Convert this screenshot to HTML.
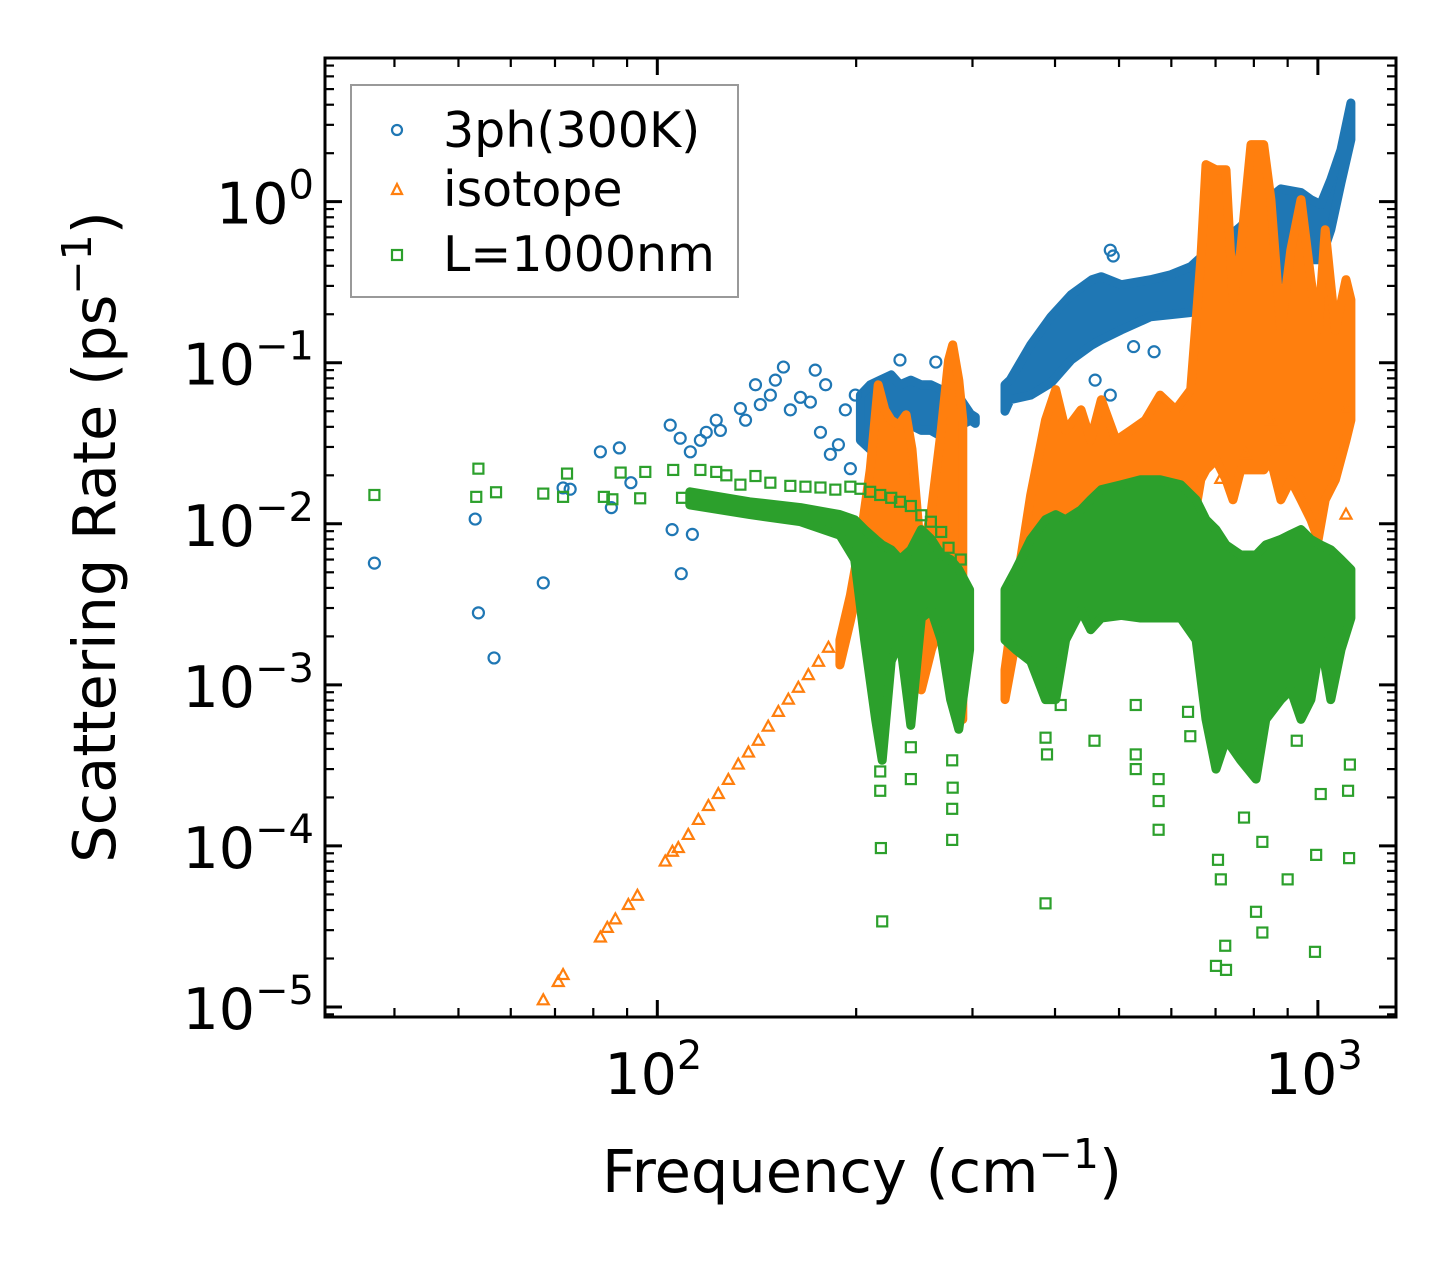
<!DOCTYPE html>
<html><head><meta charset="utf-8"><style>
body{margin:0;background:#fff}
svg{display:block}
text{font-family:"DejaVu Sans","Liberation Sans",sans-serif;fill:#000}
</style></head><body>
<svg id="chart" width="1455" height="1265" viewBox="0 0 1455 1265" xmlns="http://www.w3.org/2000/svg">
<rect width="1455" height="1265" fill="#fff"/>
<g id="marks"></g>
<g id="axes"></g>
<g id="legend">
<rect x="351" y="85" width="387" height="212" fill="#fff" stroke="#999" stroke-width="2"/>
<circle cx="397" cy="130" r="5" fill="none" stroke="#1f77b4" stroke-width="2.2"/>
<text x="443" y="147" font-size="49">3ph(300K)</text>
<polygon points="397,184 402,194 392,194" fill="none" stroke="#ff7f0e" stroke-width="2.2"/>
<text x="443" y="206" font-size="49">isotope</text>
<rect x="392" y="250" width="10" height="10" fill="none" stroke="#2ca02c" stroke-width="2.2"/>
<text x="443" y="271" font-size="49">L=1000nm</text>
</g>
</svg>
<script>
// ---- data (frequency in cm^-1, rate in ps^-1) ----
const xTickValues=[100,1000];
const xTickLabels=["2","3"];
const yTickValues=[1,0.1,0.01,0.001,0.0001,0.00001];
const yTickLabels=["0","\u22121","\u22122","\u22123","\u22124","\u22125"];

const blueBandFreq=[203,210,217.5,226,233,242,251,259.5,269,278,288,298,303,null,336,342,367.5,394.5,423,455,470,504,558,599,642,665,713,764,820,879,943,976,1010,1046,1084,1122];
const blueBandHi=[0.063,0.073,0.078,0.084,0.073,0.078,0.073,0.073,0.068,0.063,0.059,0.048,0.046,null,0.073,0.078,0.129,0.193,0.264,0.328,0.342,0.305,0.328,0.352,0.395,0.45,0.55,0.70,0.95,1.2,1.14,1.03,0.96,1.37,2.1,4.1];
const blueBandLo=[0.033,0.029,0.033,0.038,0.041,0.041,0.038,0.038,0.035,0.038,0.041,0.044,0.042,null,0.050,0.059,0.063,0.075,0.104,0.129,0.139,0.160,0.193,0.199,0.205,0.246,0.246,0.246,0.284,0.328,0.50,0.436,0.436,0.67,1.31,2.43];
const blueFreq=[37.3,53,53.6,56.6,67.2,72,73.8,82,85.2,87.6,91.2,104.6,105.3,108.3,108.7,112.2,113,116.2,118.6,122.8,124.6,133.6,136,140.8,143.2,148.3,150.9,155.2,159,164.7,170.5,173.4,176.6,179.8,182.8,188,192.6,196,199.4,233,264,485,490,526,565,792,820,460,485];
const blueRate=[0.0057,0.0107,0.0028,0.00147,0.0043,0.0167,0.0164,0.028,0.0126,0.0296,0.018,0.041,0.0092,0.034,0.0049,0.028,0.0086,0.033,0.037,0.044,0.038,0.052,0.044,0.073,0.055,0.063,0.078,0.094,0.051,0.061,0.057,0.090,0.037,0.073,0.027,0.031,0.051,0.022,0.063,0.104,0.101,0.50,0.46,0.126,0.117,0.58,0.67,0.078,0.063];

const orangeBandFreq=[189,196,203,210,216,221,226,232,238,243,251,260,269,276,280,286,290,null,336,349,367.5,387,401,415,438,453,470,495,521,548,577,609,642,665,677,701,726,744,764,792,828,849,879,910,943,976,1001,1026,1063,1103,1122];
const orangeBandHi=[0.0019,0.0036,0.0080,0.0216,0.073,0.051,0.044,0.041,0.0475,0.029,0.0060,0.0122,0.038,0.104,0.129,0.078,0.044,null,0.00124,0.0039,0.0151,0.044,0.068,0.038,0.051,0.033,0.059,0.033,0.038,0.044,0.063,0.051,0.068,0.436,1.70,1.58,1.58,0.246,0.50,2.26,2.26,1.03,0.16,0.50,1.03,0.328,0.16,0.67,0.16,0.328,0.246];
const orangeBandLo=[0.00133,0.0025,0.0048,0.0060,0.0052,0.0060,0.0060,0.0052,0.0039,0.0019,0.00093,0.00165,0.0025,0.0034,0.0025,0.00081,0.00061,null,0.00081,0.0019,0.0034,0.0052,0.0060,0.0060,0.0060,0.0060,0.0060,0.0060,0.0060,0.0060,0.0060,0.0080,0.0080,0.0188,0.0216,0.025,0.0188,0.0141,0.0216,0.0216,0.0216,0.025,0.0141,0.0188,0.0141,0.0106,0.0080,0.0141,0.0188,0.033,0.044];
const orangeFreq=[67.2,70.8,72,82,84,86.4,90.4,93.3,102.8,105.4,107.6,111.4,115.4,119.5,123.7,128.1,132.6,137.4,142.2,147.2,152.5,157.9,163.5,169.3,175.4,181.6,713,943,1103,1103,1010,879,778,849];
const orangeRate=[1.1e-5,1.43e-5,1.58e-5,2.7e-5,3.1e-5,3.5e-5,4.3e-5,4.9e-5,8.0e-5,9.2e-5,9.7e-5,1.17e-4,1.45e-4,1.77e-4,2.1e-4,2.57e-4,3.2e-4,3.8e-4,4.5e-4,5.5e-4,6.8e-4,8.1e-4,9.6e-4,1.15e-3,1.39e-3,1.7e-3,0.019,0.006,0.0114,0.051,0.063,0.033,0.027,0.044];

const greenBandFreq=[112,138,164.7,189,199,206,214,219,226,233,242,251,260,269,278,286,297,null,336,349,367.5,387,401,415,438,453,470,504,539,577,620,654,677,701,726,764,806,834,879,910,943,976,1010,1046,1084,1122];
const greenBandHi=[0.0158,0.0137,0.0126,0.0114,0.0106,0.0092,0.0080,0.0074,0.0069,0.0060,0.0069,0.0092,0.0080,0.0064,0.0060,0.0052,0.0039,null,0.0039,0.0052,0.0080,0.0106,0.0114,0.0106,0.0122,0.0141,0.0163,0.0175,0.0188,0.0188,0.0175,0.0141,0.0106,0.0092,0.0074,0.0064,0.0064,0.0074,0.0080,0.0086,0.0092,0.0080,0.0074,0.0069,0.0060,0.0052];
const greenBandLo=[0.0131,0.0114,0.0103,0.0085,0.0060,0.0019,0.00061,0.00034,0.0014,0.0019,0.00056,0.0026,0.0029,0.0019,0.00081,0.00053,0.00165,null,0.0019,0.00165,0.0014,0.00081,0.00081,0.0019,0.0029,0.0022,0.0026,0.0027,0.0026,0.0026,0.0026,0.0019,0.00061,0.0003,0.00046,0.00034,0.00026,0.00061,0.00081,0.00093,0.00061,0.00081,0.0019,0.00081,0.00165,0.0026];
const greenFreq=[37.3,53.2,53.6,57,67.2,73,72,83,85.5,88,94.2,95.9,105.7,109,116.2,122.8,127.2,133.6,140.8,148.3,159,167.6,176.6,186,196,203,210,217.5,226,233,242,251,259.5,269,276,288,217.5,217.5,218,219,242,242,279.5,280,279.5,279.5,387,389,408,459,530,530,530,574,574,574,636,641,706,713,724,726,773,824,824,900,929,990,994,1010,1115,1111,1118,701,806,387];
const greenRate=[0.0151,0.0147,0.022,0.0157,0.0154,0.0205,0.0147,0.0147,0.0142,0.0208,0.0144,0.021,0.0216,0.0145,0.0216,0.021,0.020,0.0175,0.0198,0.018,0.0172,0.0170,0.0168,0.0163,0.017,0.0165,0.0158,0.0151,0.0145,0.0137,0.0129,0.0113,0.0103,0.0089,0.0071,0.0060,2.9e-4,2.2e-4,9.7e-5,3.4e-5,4.1e-4,2.6e-4,3.4e-4,2.3e-4,1.7e-4,1.09e-4,4.7e-4,3.7e-4,7.5e-4,4.5e-4,7.5e-4,3.7e-4,3.0e-4,2.6e-4,1.9e-4,1.26e-4,6.8e-4,4.8e-4,8.2e-5,6.2e-5,2.4e-5,1.7e-5,1.5e-4,2.9e-5,1.06e-4,6.2e-5,4.5e-4,2.2e-5,8.8e-5,2.1e-4,8.4e-5,2.2e-4,3.2e-4,1.8e-5,3.9e-5,4.4e-5];

// ---- axes ----
const PL=325,PR=1396,PT=58,PB=1017;
const X0=Math.log10(31.4),X1=Math.log10(1313);
const Y0=Math.log10(1.0e-5)-10/161,Y1=Math.log10(7.8);
function xs(f){return PL+(Math.log10(f)-X0)/(X1-X0)*(PR-PL);}
function ys(v){return PB-(Math.log10(v)-Y0)/(Y1-Y0)*(PB-PT);}

const NS="http://www.w3.org/2000/svg";
function mk(tag,attrs,parent){const e=document.createElementNS(NS,tag);for(const k in attrs)e.setAttribute(k,attrs[k]);parent.appendChild(e);return e;}
const marks=document.getElementById('marks');
const axes=document.getElementById('axes');
const clip=mk('clipPath',{id:'pc'},document.getElementById('chart'));
mk('rect',{x:PL,y:PT,width:PR-PL,height:PB-PT},clip);
marks.setAttribute('clip-path','url(#pc)');

function drawBand(freq,hi,lo,color,name){
  let segs=[],cur=[];
  for(let i=0;i<freq.length;i++){if(freq[i]===null){segs.push(cur);cur=[];}else cur.push(i);}
  segs.push(cur);
  segs.forEach((s,si)=>{
    const top=s.map(i=>xs(freq[i]).toFixed(1)+','+ys(hi[i]).toFixed(1));
    const bot=s.slice().reverse().map(i=>xs(freq[i]).toFixed(1)+','+ys(lo[i]).toFixed(1));
    const p=mk('polygon',{points:top.concat(bot).join(' '),fill:color,stroke:color,'stroke-width':9,'stroke-linejoin':'round'},marks);
    
    
  });
}
function drawPoints(freq,rate,shape,color,name){
  const g=mk('g',{},marks);
  
  
  for(let i=0;i<freq.length;i++){
    const x=xs(freq[i]),y=ys(rate[i]);let e;
    if(shape==='c')e=mk('circle',{cx:x,cy:y,r:5.5,fill:'none',stroke:color,'stroke-width':2.2},g);
    else if(shape==='t')e=mk('polygon',{points:`${x},${y-6} ${x+5.5},${y+4} ${x-5.5},${y+4}`,fill:'none',stroke:color,'stroke-width':2.2},g);
    else e=mk('rect',{x:x-5,y:y-5,width:10,height:10,fill:'none',stroke:color,'stroke-width':2.2},g);
    
    
  }
}
drawBand(blueBandFreq,blueBandHi,blueBandLo,'#1f77b4','3ph');
drawPoints(blueFreq,blueRate,'c','#1f77b4','3ph');
drawBand(orangeBandFreq,orangeBandHi,orangeBandLo,'#ff7f0e','isotope');
drawPoints(orangeFreq,orangeRate,'t','#ff7f0e','isotope');
drawBand(greenBandFreq,greenBandHi,greenBandLo,'#2ca02c','boundary');
drawPoints(greenFreq,greenRate,'s','#2ca02c','boundary');

// frame
const fr=mk('rect',{x:PL,y:PT,width:PR-PL,height:PB-PT,fill:'none',stroke:'#000','stroke-width':3},axes);


// x ticks
for(let d=1;d<=3;d++){for(let m=1;m<=9;m++){const f=m*Math.pow(10,d);if(f<31.4||f>1313)continue;const x=xs(f);const L=m===1?17:9;
  const t1=mk('line',{x1:x,y1:PB,x2:x,y2:PB-L,stroke:'#000','stroke-width':m===1?3:2.2},axes);
  
  
  const t2=mk('line',{x1:x,y1:PT,x2:x,y2:PT+L,stroke:'#000','stroke-width':m===1?3:2.2},axes);
  
  }}
xTickValues.forEach((v,i)=>{const t=mk('text',{x:xs(v)-4,y:1094,'font-size':57,'text-anchor':'middle'},axes);
  t.innerHTML='10<tspan font-size="40" dy="-25">'+xTickLabels[i]+'</tspan>';
  
  });
// y ticks
for(let d=-6;d<=1;d++){for(let m=1;m<=9;m++){const v=m*Math.pow(10,d);const y=ys(v);if(y<PT||y>PB)continue;const L=m===1?17:9;
  const t1=mk('line',{x1:PL,y1:y,x2:PL+L,y2:y,stroke:'#000','stroke-width':m===1?3:2.2},axes);
  
  
  const t2=mk('line',{x1:PR,y1:y,x2:PR-L,y2:y,stroke:'#000','stroke-width':m===1?3:2.2},axes);
  
  }}
yTickValues.forEach((v,i)=>{const t=mk('text',{x:314,y:ys(v)+22,'font-size':57,'text-anchor':'end'},axes);
  t.innerHTML='10<tspan font-size="40" dy="-25">'+yTickLabels[i]+'</tspan>';
  
  });
const xl=mk('text',{x:862,y:1192,'font-size':59,'text-anchor':'middle'},axes);
xl.innerHTML='Frequency (cm<tspan font-size="41" dy="-24">\u22121</tspan><tspan dy="24">)</tspan>';


const yl=mk('text',{x:0,y:0,'font-size':59,'text-anchor':'middle',transform:'translate(115,537) rotate(-90)'},axes);
yl.innerHTML='Scattering Rate (ps<tspan font-size="41" dy="-24">\u22121</tspan><tspan dy="24">)</tspan>';


</script>
</body></html>
